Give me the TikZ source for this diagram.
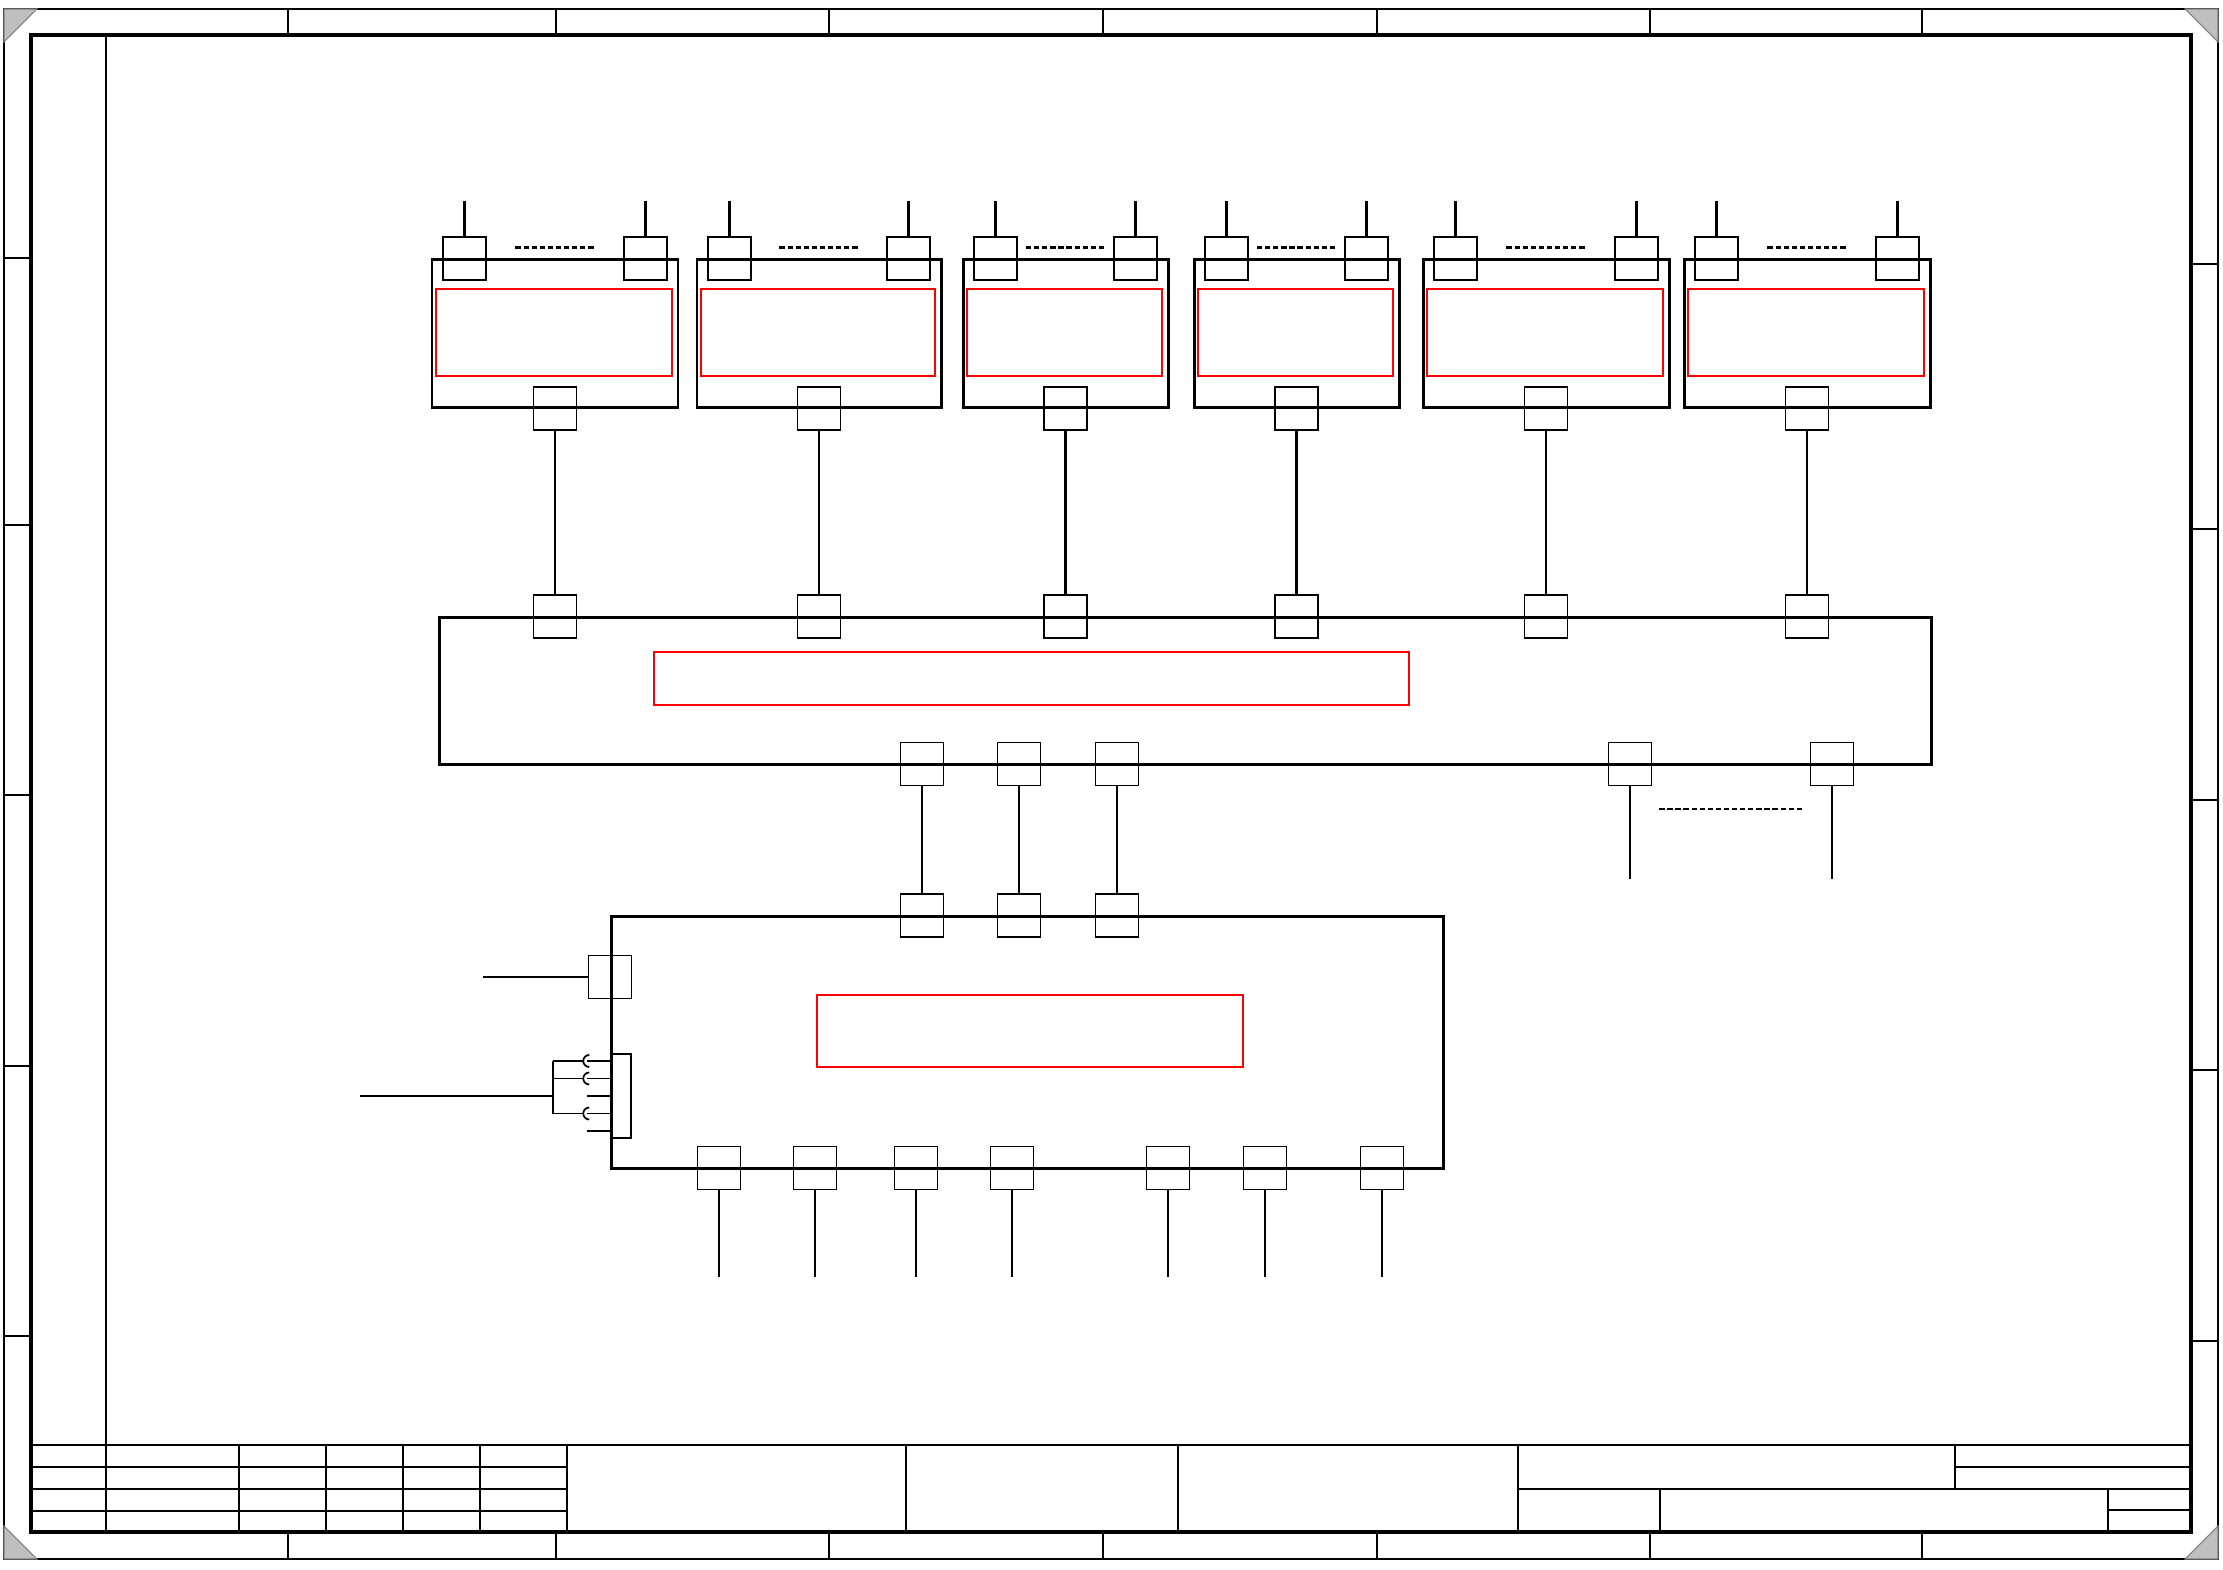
\documentclass[tikz,border=0pt]{standalone}
\usepackage{xcolor}
\usepackage{tikz}
\usetikzlibrary{positioning,calc}

\begin{document}
\begin{tikzpicture}[x=0.01cm, y=-0.01cm, line width=0.4pt,
  unit/.style={draw, line width=0.85pt, inner sep=0},
  port/.style={draw, line width=0.4pt, minimum size=0.43cm, inner sep=0},
  redbox/.style={draw=red, line width=0.45pt, inner sep=0},
  wire/.style={line width=0.8pt},
  pinline/.style={line width=0.5pt},
  dots/.style={line width=0.6pt, dash pattern=on 1.5pt off 0.8pt},
  corner/.style={fill=gray!50, draw=gray, line width=0.3pt}]
\useasboundingbox (0,0) rectangle (2223,1570);
\draw (4,9) rectangle (2218,1559);
\draw[corner] (4,9) -- (37,9) -- (4,42) -- cycle;
\draw[corner] (2218,9) -- (2185,9) -- (2218,42) -- cycle;
\draw[corner] (4,1559) -- (37,1559) -- (4,1526) -- cycle;
\draw[corner] (2218,1559) -- (2185,1559) -- (2218,1526) -- cycle;
\draw[line width=1pt] (31,35) rectangle (2191,1532);
\foreach \x in {288,556,829,1103,1377,1650,1922} {
  \draw (\x,9) -- (\x,35);
  \draw (\x,1532) -- (\x,1559);
}
\foreach \y in {258,525,795,1066,1336} \draw (4,\y) -- (31,\y);
\foreach \y in {264,529,800,1070,1341} \draw (2191,\y) -- (2218,\y);
\draw (106,35) -- (106,1532);
\draw (31,1445) -- (2191,1445);
\foreach \y in {1467,1511} \draw[line width=0.6pt] (31,\y) -- (567,\y);
\draw (31,1489) -- (567,1489);
\foreach \x in {239,326,403,480,567,906,1178,1518} \draw (\x,1445) -- (\x,1532);
\draw (1955,1445) -- (1955,1489);
\draw (1955,1467) -- (2191,1467);
\draw (1518,1489) -- (2191,1489);
\draw (1660,1489) -- (1660,1532);
\draw (2108,1489) -- (2108,1532);
\draw (2108,1510) -- (2191,1510);

\foreach \i/\cx/\w in {1/555/246, 2/819/244, 3/1065.5/205, 4/1296.5/205, 5/1546/246, 6/1807/246} {
  \node[unit, minimum width=\w*0.01cm, minimum height=1.47cm] (m\i) at (\cx,333.5) {};
  \node[redbox, minimum width=(\w-10)*0.01cm, minimum height=0.87cm] (m\i-red) at (\cx-1,332.5) {};
  \node[port] (m\i-inA) at ([xshift=0.34cm]m\i.north west) {};
  \node[port] (m\i-inB) at ([xshift=-0.34cm]m\i.north east) {};
  \node[port] (m\i-out) at (m\i.south) {};
  \coordinate (m\i-endA) at ([yshift=0.35cm]m\i-inA.north);
  \coordinate (m\i-endB) at ([yshift=0.35cm]m\i-inB.north);
  \draw[wire] (m\i-inA) -- (m\i-endA);
  \draw[wire] (m\i-inB) -- (m\i-endB);
  \coordinate (m\i-mid) at ($(m\i-inA)!0.5!(m\i-inB)$);
  \draw[dots] ([xshift=-0.395cm, yshift=0.11cm]m\i-mid) -- ([xshift=0.395cm, yshift=0.11cm]m\i-mid);
}

\node[unit, minimum width=14.91cm, minimum height=1.46cm] (bus) at (1185.5,691) {};
\node[redbox, minimum width=7.55cm, minimum height=0.53cm] (bus-red) at (1031.5,678.5) {};
\foreach \i in {1,...,6} {
  \node[port] (bus-in\i) at (m\i-out |- bus.north) {};
  \draw[wire] (m\i-out) -- (bus-in\i);
}
\foreach \j/\x in {1/922, 2/1019, 3/1117, 4/1630, 5/1832}
  \node[port] (bus-out\j) at (\x,764) {};
\foreach \j in {4,5} {
  \coordinate (bus-end\j) at ([yshift=-0.925cm]bus-out\j.south);
  \draw[wire] (bus-out\j) -- (bus-end\j);
}
\draw[dots] ([xshift=0.07cm, yshift=-0.45cm]bus-out4.east) -- ([xshift=-0.07cm, yshift=-0.45cm]bus-out5.west);

\node[unit, minimum width=8.31cm, minimum height=2.51cm] (ctrl) at (1027.5,1042.5) {};
\node[redbox, minimum width=4.26cm, minimum height=0.72cm] (ctrl-red) at (1030,1031) {};
\foreach \j in {1,2,3} {
  \node[port] (ctrl-in\j) at (bus-out\j |- ctrl.north) {};
  \draw[wire] (bus-out\j) -- (ctrl-in\j);
}
\foreach \j/\x in {1/719, 2/815, 3/916, 4/1012, 5/1168, 6/1265, 7/1382} {
  \node[port] (ctrl-out\j) at (\x,1168) {};
  \coordinate (ctrl-end\j) at ([yshift=-0.865cm]ctrl-out\j.south);
  \draw[wire] (ctrl-out\j) -- (ctrl-end\j);
}
\node[port] (ctrl-ext) at ([yshift=0.655cm]ctrl.west) {};
\coordinate (ext-end) at ([xshift=-1.05cm]ctrl-ext.west);
\draw[wire] (ctrl-ext) -- (ext-end);

\node[draw, inner sep=0, minimum width=0.2cm, minimum height=0.84cm, anchor=west] (plug) at (ctrl.west |- 0,1096) {};
\foreach \k/\dy in {1/0.35, 2/0.175, 3/0, 4/-0.175, 5/-0.35} {
  \coordinate (pin\k) at ([yshift=\dy cm]plug.west);
  \draw[pinline] (pin\k) -- ++(-0.23cm,0);
}
\coordinate (split) at (553,1096);
\coordinate (cable-end) at (360,1096);
\draw[wire] (cable-end) -- (split);
\draw[wire] (split |- pin1) -- (split |- pin4);
\foreach \k in {1,2,4} {
  \draw[pinline] (split |- pin\k) -- ([xshift=-0.27cm]pin\k);
  \draw[pinline] ([xshift=-0.21cm, yshift=0.06cm]pin\k) arc[start angle=90, end angle=270, radius=0.06cm];
}
\end{tikzpicture}
\end{document}
